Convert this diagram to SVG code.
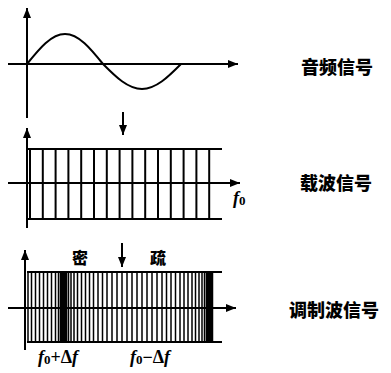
<svg xmlns="http://www.w3.org/2000/svg" width="391" height="373" viewBox="0 0 391 373">
<style>
.ax{stroke:#000;stroke-width:2;fill:none}
.ln{stroke:#000;stroke-width:2;fill:none}
.lm{stroke:#000;stroke-width:1.5;fill:none}
.cn{font-family:"Noto Sans CJK SC",sans-serif;font-weight:900;fill:#000}
.mt{font-family:"Liberation Serif",serif;font-style:italic;font-weight:bold;fill:#000;font-size:18px}
</style>
<defs>
<marker id="ah" viewBox="0 0 10 8" refX="10" refY="4" markerWidth="10" markerHeight="8" markerUnits="userSpaceOnUse" orient="auto">
<path d="M0,0 L10,4 L0,8 Z" fill="#000"/>
</marker>
</defs>
<rect width="391" height="373" fill="#fff"/>
<g id="audio">
<path class="ax" d="M27,118 V8" marker-end="url(#ah)"/>
<path class="ax" d="M8,64 H238" marker-end="url(#ah)"/>
<path class="ax" d="M27,64 C39.4,48.6 51.2,34 65,34 C78.8,34 90.6,48.6 103,64 C115.7,76.8 127.9,89 142,89 C156.1,89 168.3,76.8 181,64"/>
<text class="cn" x="337" y="74" font-size="18" text-anchor="middle">音频信号</text>
</g>
<g id="connectors">
<path class="ax" d="M123,112 V135" marker-end="url(#ah)"/>
<path class="ax" d="M122,243 V267" marker-end="url(#ah)"/>
</g>
<g id="carrier">
<path class="ax" d="M27,228 V128" marker-end="url(#ah)"/>
<path class="ax" d="M8,183 H240" marker-end="url(#ah)"/>
<path class="ln" d="M27,149 H222 M27,219 H222"/>
<path class="ln" d="M30,149V219 M42.8,149V219 M55.6,149V219 M68.4,149V219 M81.2,149V219 M94,149V219 M106.8,149V219 M119.6,149V219 M132.4,149V219 M145.2,149V219 M158,149V219 M170.8,149V219 M183.6,149V219 M196.4,149V219 M209.2,149V219"/>
<text class="mt" x="233" y="204">f<tspan font-size="13" font-style="normal" dy="1">0</tspan></text>
<text class="cn" x="336" y="190" font-size="18" text-anchor="middle">载波信号</text>
</g>
<g id="modulated">
<path class="ax" d="M25,350 V250" marker-end="url(#ah)"/>
<path class="ax" d="M8,308 H236" marker-end="url(#ah)"/>
<path class="ln" d="M27,272 H222 M27,342 H222"/>
<path class="lm" d="M28,272V342 M31.5,272V342 M35.5,272V342 M39.5,272V342 M43.5,272V342 M47.5,272V342 M51.5,272V342 M55.5,272V342 M58.5,272V342 M60.5,272V342 M62,272V342 M63.5,272V342 M65,272V342 M66.5,272V342 M68.5,272V342 M71,272V342 M74,272V342 M77.5,272V342 M81.5,272V342 M85.5,272V342 M89.5,272V342 M93.5,272V342 M98,272V342 M102.5,272V342 M107,272V342 M112,272V342 M117,272V342 M122,272V342 M127,272V342 M132,272V342 M137,272V342 M142,272V342 M147,272V342 M152,272V342 M157,272V342 M162,272V342 M166.5,272V342 M171,272V342 M175.5,272V342 M180,272V342 M184,272V342 M188,272V342 M192,272V342 M195.5,272V342 M199,272V342 M202,272V342 M204.5,272V342 M206.5,272V342 M208,272V342 M209.5,272V342 M211,272V342 M212.5,272V342"/>
<text class="cn" x="80" y="264" font-size="16" text-anchor="middle">密</text>
<text class="cn" x="158" y="264" font-size="16" text-anchor="middle">疏</text>
<text class="mt" x="38" y="363">f<tspan font-size="13" font-style="normal" dy="1">0</tspan><tspan font-style="normal" dy="-1">+Δ</tspan>f</text>
<text class="mt" x="130" y="363">f<tspan font-size="13" font-style="normal" dy="1">0</tspan><tspan font-style="normal" dy="-1">−Δ</tspan>f</text>
<text class="cn" x="334" y="317" font-size="18" text-anchor="middle">调制波信号</text>
</g>
</svg>
